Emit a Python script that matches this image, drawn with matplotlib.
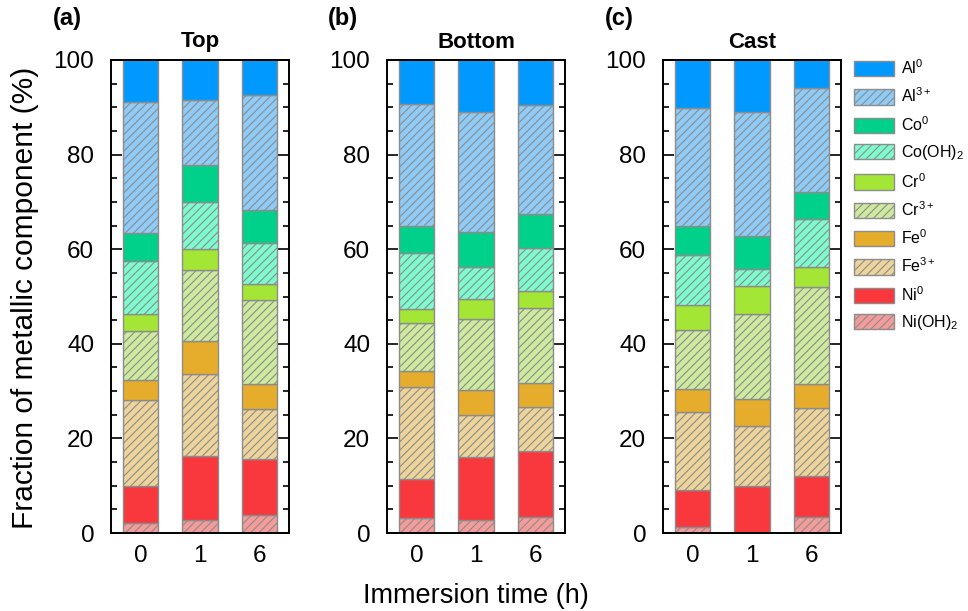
import matplotlib
matplotlib.use("Agg")
import matplotlib.pyplot as plt
from matplotlib.patches import Patch
from matplotlib.ticker import MultipleLocator

plt.rcParams["font.family"] = ["Liberation Sans", "DejaVu Sans"]
plt.rcParams["mathtext.fontset"] = "custom"
plt.rcParams["mathtext.rm"] = "Liberation Sans"
plt.rcParams["mathtext.it"] = "Liberation Sans:italic"
plt.rcParams["hatch.linewidth"] = 0.8

# =========================
# データ (各成分の割合 %)
# 並び: Top(0,1,6), Bottom(0,1,6), Cast(0,1,6)
# =========================
panels = ["Top", "Bottom", "Cast"]
panel_tags = ["(a)", "(b)", "(c)"]
times = ["0", "1", "6"]

ni_oh2 = [2.1, 2.7, 3.7, 3.2, 2.8, 3.4, 1.3, 0.0, 3.3]
ni0 = [7.8, 13.5, 12.0, 8.2, 13.3, 13.9, 7.7, 9.9, 8.8]
fe3 = [18.3, 17.5, 10.5, 19.4, 8.8, 9.3, 16.6, 12.8, 14.3]
fe0 = [4.1, 6.9, 5.3, 3.5, 5.3, 5.1, 4.9, 5.6, 5.1]
cr3 = [10.4, 15.0, 17.7, 10.0, 15.1, 15.9, 12.4, 18.1, 20.5]
cr0 = [3.7, 4.5, 3.5, 3.1, 4.2, 3.5, 5.4, 5.8, 4.3]
co_oh2 = [11.1, 9.9, 8.7, 11.7, 6.8, 9.2, 10.4, 3.7, 10.1]
co0 = [6.0, 7.9, 6.8, 5.8, 7.4, 7.2, 6.2, 6.9, 5.7]
al3 = [27.7, 13.6, 24.4, 25.7, 25.4, 22.9, 25.0, 26.3, 22.0]
al0 = [8.8, 8.5, 7.4, 9.4, 10.9, 9.6, 10.1, 10.9, 5.9]

# 下から積み上げる順
components = [ni_oh2, ni0, fe3, fe0, cr3, cr0, co_oh2, co0, al3, al0]
comp_labels = ["Ni(OH)$_2$", "Ni$^0$", "Fe$^{3+}$", "Fe$^0$", "Cr$^{3+}$",
               "Cr$^0$", "Co(OH)$_2$", "Co$^0$", "Al$^{3+}$", "Al$^0$"]
comp_colors = ["#F59C9A", "#F8383C", "#EDD49A", "#E6AD2C", "#CDEA9E",
               "#A3E635", "#7DFCCE", "#00D18A", "#8ECBF7", "#0099FF"]
comp_hatch = ["////", None, "////", None, "////", None, "////", None, "////", None]

EDGE = "#8C8C8C"

# =========================
# 図の作成
# =========================
fig = plt.figure(figsize=(9.68, 6.11), dpi=100)

ax_left = [111, 387, 663]
for p in range(3):
    ax = fig.add_axes([ax_left[p] / 968, 78 / 611, 178 / 968, 473 / 611])
    x = list(range(len(times)))
    bottom = [0.0, 0.0, 0.0]
    for c in range(len(components)):
        vals = components[c][p * 3:p * 3 + 3]
        ax.bar(x, vals, width=0.6, bottom=bottom, color=comp_colors[c],
               edgecolor=EDGE, linewidth=1.0, hatch=comp_hatch[c], zorder=2)
        bottom = [bottom[i] + vals[i] for i in range(3)]

    ax.set_xlim(-0.5, 2.5)
    ax.set_ylim(0, 100)
    ax.set_xticks(x)
    ax.set_xticklabels(times)
    ax.yaxis.set_major_locator(MultipleLocator(20))
    ax.yaxis.set_minor_locator(MultipleLocator(5))
    ax.tick_params(axis="y", which="both", direction="in", right=True,
                   labelsize=17.5, width=1.2, pad=12)
    ax.tick_params(axis="y", which="major", length=8)
    ax.tick_params(axis="y", which="minor", length=4.5)
    ax.tick_params(axis="x", length=0, labelsize=17.5, pad=9)
    for s in ax.spines.values():
        s.set_linewidth(1.4)

    ax.set_title(panels[p], fontsize=16, fontweight="bold", pad=9)
    fig.text((ax_left[p] - 44) / 968, 1 - 19 / 611, panel_tags[p],
             fontsize=17, fontweight="bold", ha="center", va="center")

fig.text(25 / 968, 1 - 298 / 611, "Fraction of metallic component (%)",
         rotation=90, fontsize=21.5, ha="center", va="center")
fig.text(476 / 968, 1 - 596 / 611, "Immersion time (h)",
         fontsize=19.5, ha="center", va="center")

# 凡例 (上から Al0 ... Ni(OH)2)
handles = []
for c in reversed(range(len(components))):
    handles.append(Patch(facecolor=comp_colors[c], edgecolor=EDGE,
                         hatch=comp_hatch[c], label=comp_labels[c]))
fig.legend(handles=handles, loc="upper left",
           bbox_to_anchor=(848 / 968, 1 - 52 / 611), frameon=False,
           fontsize=11.5, handlelength=2.5, handleheight=1.1,
           labelspacing=0.6, handletextpad=0.4, borderaxespad=0)

plt.savefig("out.png", dpi=100)
